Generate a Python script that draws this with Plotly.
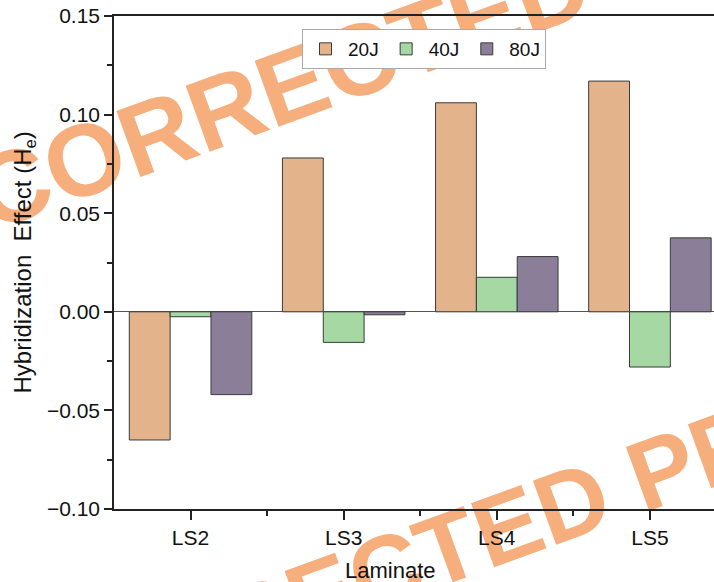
import plotly.graph_objects as go

categories = ["LS2", "LS3", "LS4", "LS5"]
series_names = ["20J", "40J", "80J"]
he_20j = [-0.065, 0.078, 0.106, 0.117]
he_40j = [-0.0025, -0.0155, 0.0175, -0.028]
he_80j = [-0.042, -0.0015, 0.028, 0.0375]
colors = ["#E3B48C", "#A5D8A3", "#8A7E99"]

y_ticks = [-0.10, -0.05, 0.00, 0.05, 0.10, 0.15]

FONT = "Arial, Liberation Sans, sans-serif"
xpos = list(range(len(categories)))

fig = go.Figure()
for name, vals, col in zip(series_names, [he_20j, he_40j, he_80j], colors):
    fig.add_trace(go.Bar(
        x=xpos, y=vals, name=name,
        marker=dict(color=col, line=dict(color="#3a3a3a", width=1)),
    ))

W, H = 714, 582
L, R, T, B = 114, 0, 16, 73
pw, ph = W - L - R, H - T - B


def px(xp):
    return (xp - L) / pw


def py(yp):
    return 1 - (yp - T) / ph


# watermark (drawn below data)
for cx, cy, fs in [(462, 12, 102), (486, 524, 99)]:
    fig.add_shape(
        type="rect", xref="paper", yref="paper",
        x0=px(cx) - 0.05, x1=px(cx) + 0.05, y0=py(cy) - 0.05, y1=py(cy) + 0.05,
        line=dict(width=0), fillcolor="rgba(0,0,0,0)", layer="below",
        label=dict(text="CORRECTED PROOF", textposition="middle center",
                   textangle=-20,
                   font=dict(family=FONT, size=fs, color="#F5AE7C", weight="bold")),
    )

fig.update_layout(
    width=W, height=H,
    margin=dict(l=L, r=R, t=T, b=B),
    paper_bgcolor="white", plot_bgcolor="rgba(0,0,0,0)",
    font=dict(family=FONT, size=21, color="#111"),
    barmode="group", bargap=0.2, bargroupgap=0,
    showlegend=True,
    legend=dict(
        orientation="h", x=px(302), y=py(29), xanchor="left", yanchor="top",
        bgcolor="white", bordercolor="#aaaaaa", borderwidth=1,
        font=dict(family=FONT, size=19, color="#111"),
        itemwidth=35, tracegroupgap=0,
    ),
    xaxis=dict(
        range=[-0.5, -0.5 + (W - 113.3) / 153.3],
        tickmode="array", tickvals=xpos, ticktext=categories,
        showline=True, linecolor="#222", linewidth=1.5, mirror=True,
        ticks="outside", ticklen=9, tickwidth=1.5, tickcolor="#222",
        minor=dict(ticks="outside", ticklen=5, tickwidth=1.5, tickcolor="#222",
                   tickmode="array", tickvals=[0.5, 1.5, 2.5, 3.5]),
        showgrid=False, zeroline=False,
        tickfont=dict(size=21),
    ),
    yaxis=dict(
        range=[-0.10, 0.15],
        tickmode="array", tickvals=y_ticks, tickformat=".2f",
        showline=True, linecolor="#222", linewidth=1.5,
        ticks="outside", ticklen=8, tickwidth=1.5, tickcolor="#222",
        minor=dict(ticks="outside", ticklen=5, tickwidth=1.5, tickcolor="#222",
                   tickmode="array", tickvals=[-0.075, -0.025, 0.025, 0.075, 0.125]),
        showgrid=False, zeroline=True, zerolinecolor="#555", zerolinewidth=1,
        tickfont=dict(size=21),
    ),
    annotations=[
        dict(text="Hybridization  Effect (H<sub>e</sub>)", xref="paper", yref="paper",
             x=px(24), y=0.5, textangle=-90, showarrow=False,
             font=dict(size=24), xanchor="center", yanchor="middle"),
        dict(text="Laminate", xref="paper", yref="paper",
             x=px(390), y=py(570), showarrow=False,
             font=dict(size=22), xanchor="center", yanchor="middle"),
    ],
)

fig.write_html("out.html", config={"displayModeBar": False},
               post_script="document.body.style.margin='0';")
